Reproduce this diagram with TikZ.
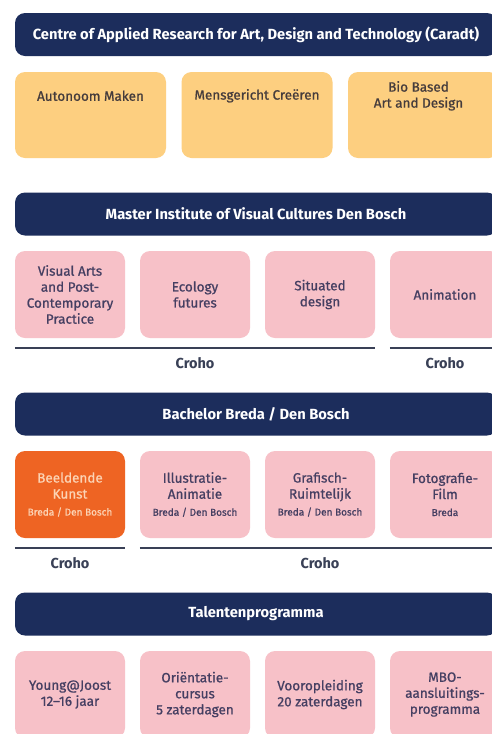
\documentclass[tikz,border=0pt]{standalone}
\usepackage{fontspec}
\setmainfont{Fira Sans}
\newfontfamily\middel{Fira Sans}[FakeBold=0.9]
\usetikzlibrary{positioning}

\definecolor{navy}{HTML}{1C2D5C}
\definecolor{geel}{HTML}{FDCF80}
\definecolor{roze}{HTML}{F7C1C8}
\definecolor{oranje}{HTML}{EE6423}
\definecolor{perzik}{HTML}{FCD3B4}
\definecolor{bruin}{HTML}{453C3C}
\definecolor{paars}{HTML}{453F62}
\definecolor{lijn}{HTML}{394056}

\tikzset{
  banner/.style={fill=navy, rounded corners=10pt, minimum width=482pt,
    minimum height=43pt, inner sep=0pt, text=white,
    font=\fontsize{14.7}{16}\selectfont\bfseries},
  geelvak/.style={fill=geel, rounded corners=10pt, minimum width=151pt,
    minimum height=86pt, inner sep=0pt},
  geeltekst/.style={text=bruin, align=center, inner sep=0pt,
    font=\middel\fontsize{13.5}{16}\selectfont},
  rozevak/.style={fill=roze, rounded corners=10pt, minimum width=110pt,
    minimum height=87pt, inner sep=0pt, text=paars, align=center,
    font=\middel\fontsize{13.5}{16}\selectfont},
  oranjevak/.style={rozevak, fill=oranje, text=perzik},
  regel/.style={draw=lijn, line width=2pt},
  croho/.style={text=lijn, inner sep=0pt, font=\fontsize{14.5}{16}\selectfont\bfseries}
}
\newcommand{\plaats}[1]{\\[1pt]{\fontsize{10}{12}\selectfont #1}}

\begin{document}
\begin{tikzpicture}[x=1pt, y=-1pt]
  \clip (0,0) rectangle (492,734);
  \fill[white] (0,0) rectangle (492,734);

  % Caradt
  \node[banner] (caradt) at (256,34.5) {Centre of Applied Research for Art, Design and Technology (Caradt)};
  \node[geelvak] (autonoom) at (90.5,115) {};
  \node[geelvak] (mensgericht) at (257,115) {};
  \node[geelvak] (biobased) at (423.5,115) {};
  \node[geeltekst] at ([yshift=-24pt]autonoom.north) {Autonoom Maken};
  \node[geeltekst] at ([yshift=-24pt]mensgericht.north) {Mensgericht Creëren};
  \node[geeltekst] at ([xshift=-5pt,yshift=-24pt]biobased.north) {Bio Based\\Art and Design};

  % Master
  \node[banner] (master) at (256,214) {Master Institute of Visual Cultures Den Bosch};
  \node[rozevak] (visual) at (70,294.5) {Visual Arts\\and Post-\\Contemporary\\Practice};
  \node[rozevak] (ecology) at (195,294.5) {Ecology\\futures};
  \node[rozevak] (situated) at (320,294.5) {Situated\\design};
  \node[rozevak] (animation) at (445,294.5) {Animation};
  \draw[regel] ([yshift=-10pt]visual.south west) -- ([yshift=-10pt]situated.south east);
  \draw[regel] ([yshift=-10pt]animation.south west) -- ([yshift=-10pt]animation.south east);
  \node[croho] (crohomaster) at ([yshift=-25pt]ecology.south) {Croho};
  \node[croho] (crohoanim) at ([yshift=-25pt]animation.south) {Croho};

  % Bachelor
  \node[banner] (bachelor) at (256,414) {Bachelor Breda / Den Bosch};
  \node[oranjevak] (beeldende) at (70,494.5) {Beeldende\\Kunst\plaats{Breda / Den Bosch}};
  \node[rozevak] (illustratie) at (195,494.5) {Illustratie-\\Animatie\plaats{Breda / Den Bosch}};
  \node[rozevak] (grafisch) at (320,494.5) {Grafisch-\\Ruimtelijk\plaats{Breda / Den Bosch}};
  \node[rozevak] (fotografie) at (445,494.5) {Fotografie-\\Film\plaats{Breda}};
  \draw[regel] ([yshift=-10pt]beeldende.south west) -- ([yshift=-10pt]beeldende.south east);
  \draw[regel] ([yshift=-10pt]illustratie.south west) -- ([yshift=-10pt]fotografie.south east);
  \node[croho] (crohobeeld) at ([yshift=-25pt]beeldende.south) {Croho};
  \node[croho] (crohobach) at ([yshift=-25pt]grafisch.south) {Croho};

  % Talenten
  \node[banner] (talent) at (256,614) {Talentenprogramma};
  \node[rozevak] (young) at (70,694.5) {Young@Joost\\12–16 jaar};
  \node[rozevak] (orientatie) at (195,694.5) {Oriëntatie-\\cursus\\5 zaterdagen};
  \node[rozevak] (vooropleiding) at (320,694.5) {Vooropleiding\\20 zaterdagen};
  \node[rozevak] (mbo) at (445,694.5) {MBO-\\aansluitings-\\programma};
\end{tikzpicture}
\end{document}
